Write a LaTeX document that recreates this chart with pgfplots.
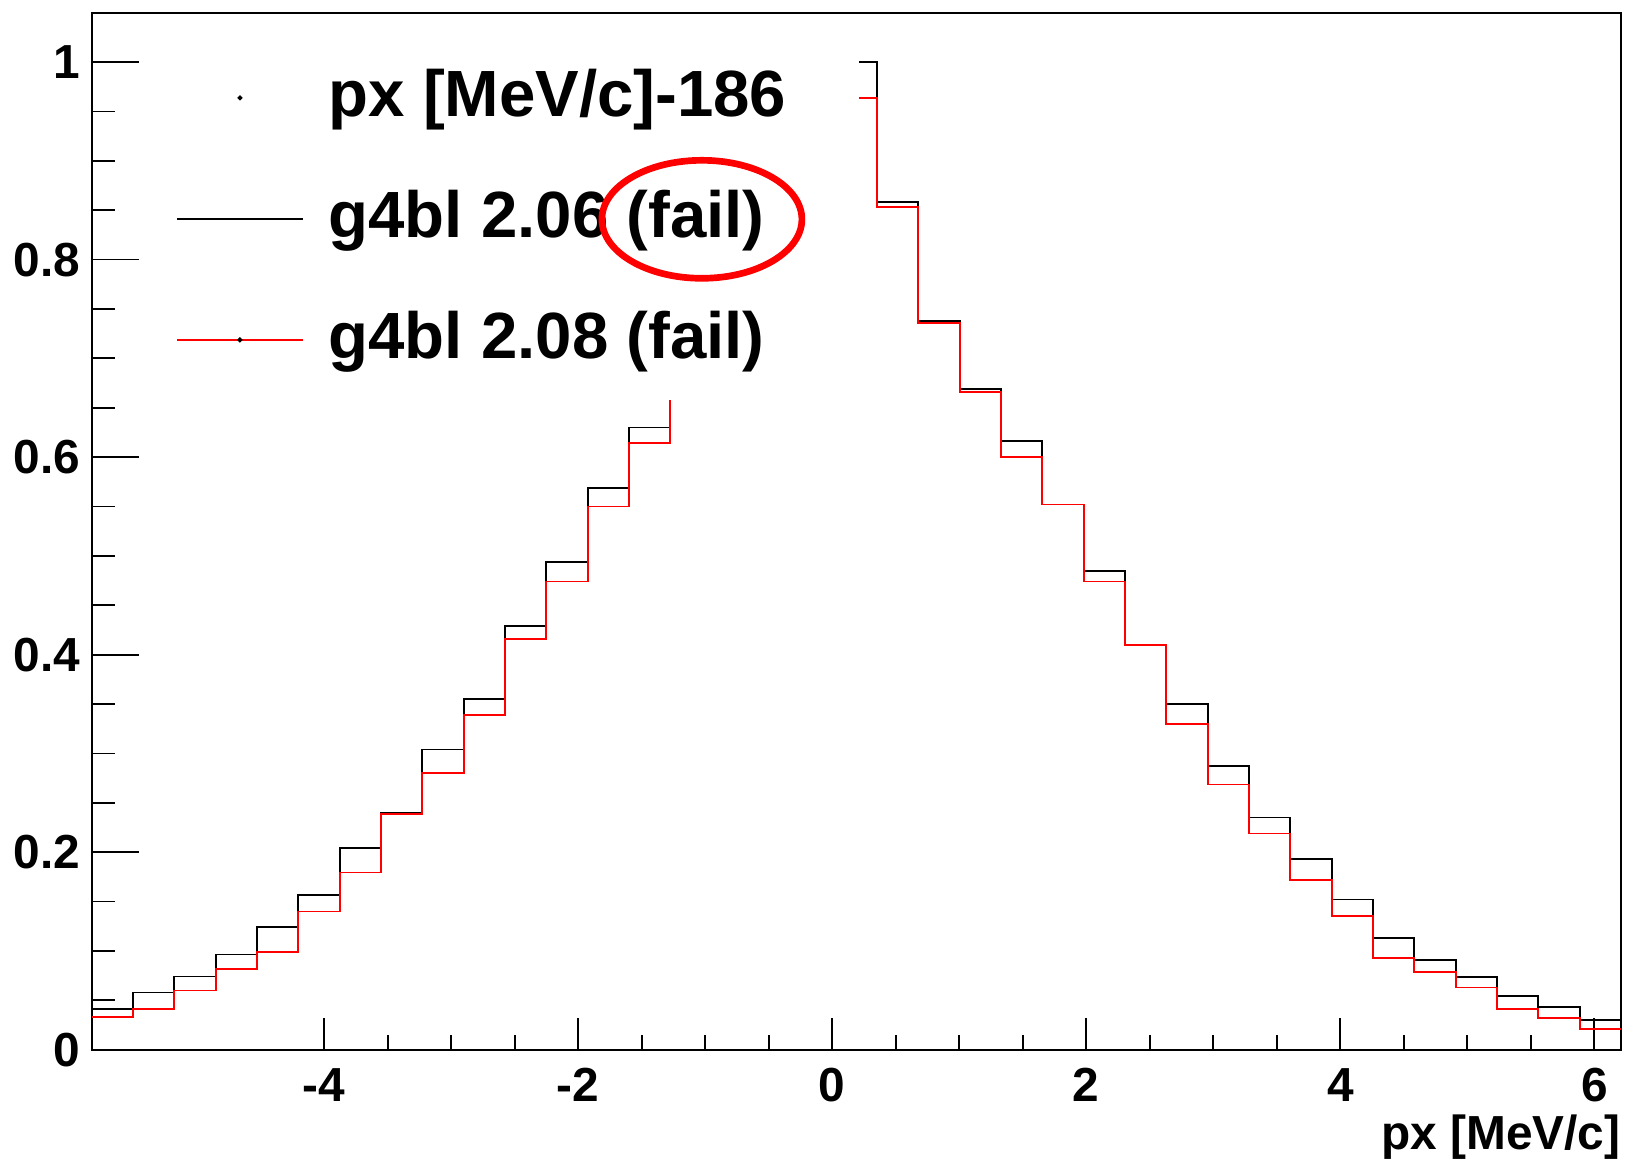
\documentclass[border=0pt]{standalone}
\usepackage{fontspec}
\setmainfont{Liberation Sans}
\usepackage{pgfplots}
\pgfplotsset{compat=1.18}

\newcommand{\tickfont}{\bfseries\fontsize{13.6}{16}\selectfont}
\newcommand{\legfont}{\bfseries\fontsize{18.6}{21}\selectfont}
% legend text cell of fixed width
\newcommand{\legrow}[1]{\makebox[5.30cm][l]{#1}}

\begin{document}
\begin{tikzpicture}
\begin{axis}[
    scale only axis,
    width=15.293cm, height=10.37cm,
    xmin=-5.83, xmax=6.21, ymin=0, ymax=1.05,
    axis line style={line width=0.6pt},
    xtick={-4,-2,0,2,4,6}, minor x tick num=3,
    ytick={0,0.2,0.4,0.6,0.8,1}, minor y tick num=3,
    tick pos=left, tick align=inside,
    xtick style={line width=0.5pt, black, /pgfplots/major tick length=0.317cm, /pgfplots/minor tick length=0.15cm},
    ytick style={line width=0.5pt, black, /pgfplots/major tick length=0.477cm, /pgfplots/minor tick length=0.23cm},
    tick label style={font=\tickfont, inner sep=0pt},
    /pgf/number format/assume math mode=true,
    xticklabel style={yshift=-0.18cm},
    yticklabel style={xshift=-0.107cm},
    xlabel={px [MeV/c]},
    xlabel style={at={(axis description cs:1,0)}, anchor=base east, yshift=-0.997cm, inner sep=0pt, font=\tickfont},
    legend cell align=left,
    legend style={at={(axis cs:-5.165,1.025)}, anchor=north west,
        fill=white, draw=none, inner sep=0pt, outer sep=0pt,
        column sep=0.25cm, row sep=0pt,
        nodes={inner sep=0pt, font=\legfont, text height=0.79cm, text depth=0.42cm}},
]
\addlegendimage{legend image code/.code={\path[draw=none,fill=none] (0cm,0cm) -- (1.257cm,0cm); \fill[black] (0.6285cm,0cm) circle (0.5pt);}}
\addlegendentry{\legrow{px [MeV/c]-186}}

% g4bl 2.06
\addplot[black, line width=0.5pt, const plot,
    legend image code/.code={\draw[black, line width=0.5pt] (0cm,0cm) -- (1.257cm,0cm);}]
coordinates {
(-5.8300,0.041) (-5.5046,0.058) (-5.1792,0.074) (-4.8538,0.0965) (-4.5284,0.1245)
(-4.2030,0.157) (-3.8776,0.2045) (-3.5522,0.240) (-3.2268,0.304) (-2.9014,0.355)
(-2.5760,0.429) (-2.2505,0.494) (-1.9251,0.569) (-1.5997,0.630) (-1.2743,0.70)
(-0.9489,0.77) (-0.6235,0.85) (-0.2981,0.93) (0.0273,1.000) (0.3527,0.858)
(0.6781,0.738) (1.0035,0.669) (1.3290,0.616) (1.6544,0.552) (1.9798,0.485)
(2.3052,0.410) (2.6306,0.350) (2.9560,0.2875) (3.2814,0.235) (3.6068,0.193)
(3.9322,0.152) (4.2576,0.113) (4.5830,0.0905) (4.9085,0.0736) (5.2339,0.054)
(5.5593,0.043) (5.8847,0.030) (6.2100,0.030)
};
\addlegendentry{\legrow{g4bl 2.06 (fail)}}

% g4bl 2.08
\addplot[red, line width=0.5pt, const plot,
    legend image code/.code={\draw[red, line width=0.5pt] (0cm,0cm) -- (1.257cm,0cm); \fill[black] (0.6285cm,0cm) circle (0.45pt);}]
coordinates {
(-5.8300,0.033) (-5.5046,0.041) (-5.1792,0.060) (-4.8538,0.082) (-4.5284,0.099)
(-4.2030,0.140) (-3.8776,0.1795) (-3.5522,0.239) (-3.2268,0.280) (-2.9014,0.339)
(-2.5760,0.416) (-2.2505,0.474) (-1.9251,0.550) (-1.5997,0.614) (-1.2743,0.69)
(-0.9489,0.76) (-0.6235,0.84) (-0.2981,0.92) (0.0273,0.964) (0.3527,0.853)
(0.6781,0.736) (1.0035,0.666) (1.3290,0.600) (1.6544,0.552) (1.9798,0.474)
(2.3052,0.410) (2.6306,0.330) (2.9560,0.2686) (3.2814,0.219) (3.6068,0.172)
(3.9322,0.135) (4.2576,0.0925) (4.5830,0.079) (4.9085,0.063) (5.2339,0.041)
(5.5593,0.032) (5.8847,0.021) (6.2100,0.021)
};
\addlegendentry{\legrow{g4bl 2.08 (fail)}}

\coordinate (ellc) at (axis cs:-1.026,0.8408);
\end{axis}
\draw[red, line width=1.9pt] (ellc) ellipse [x radius=1.0cm, y radius=0.59cm];
\path ([shift={(-0.917cm,-1.103cm)}]current axis.south west) rectangle ([shift={(0.04cm,0.127cm)}]current axis.north east);
\end{tikzpicture}
\end{document}
